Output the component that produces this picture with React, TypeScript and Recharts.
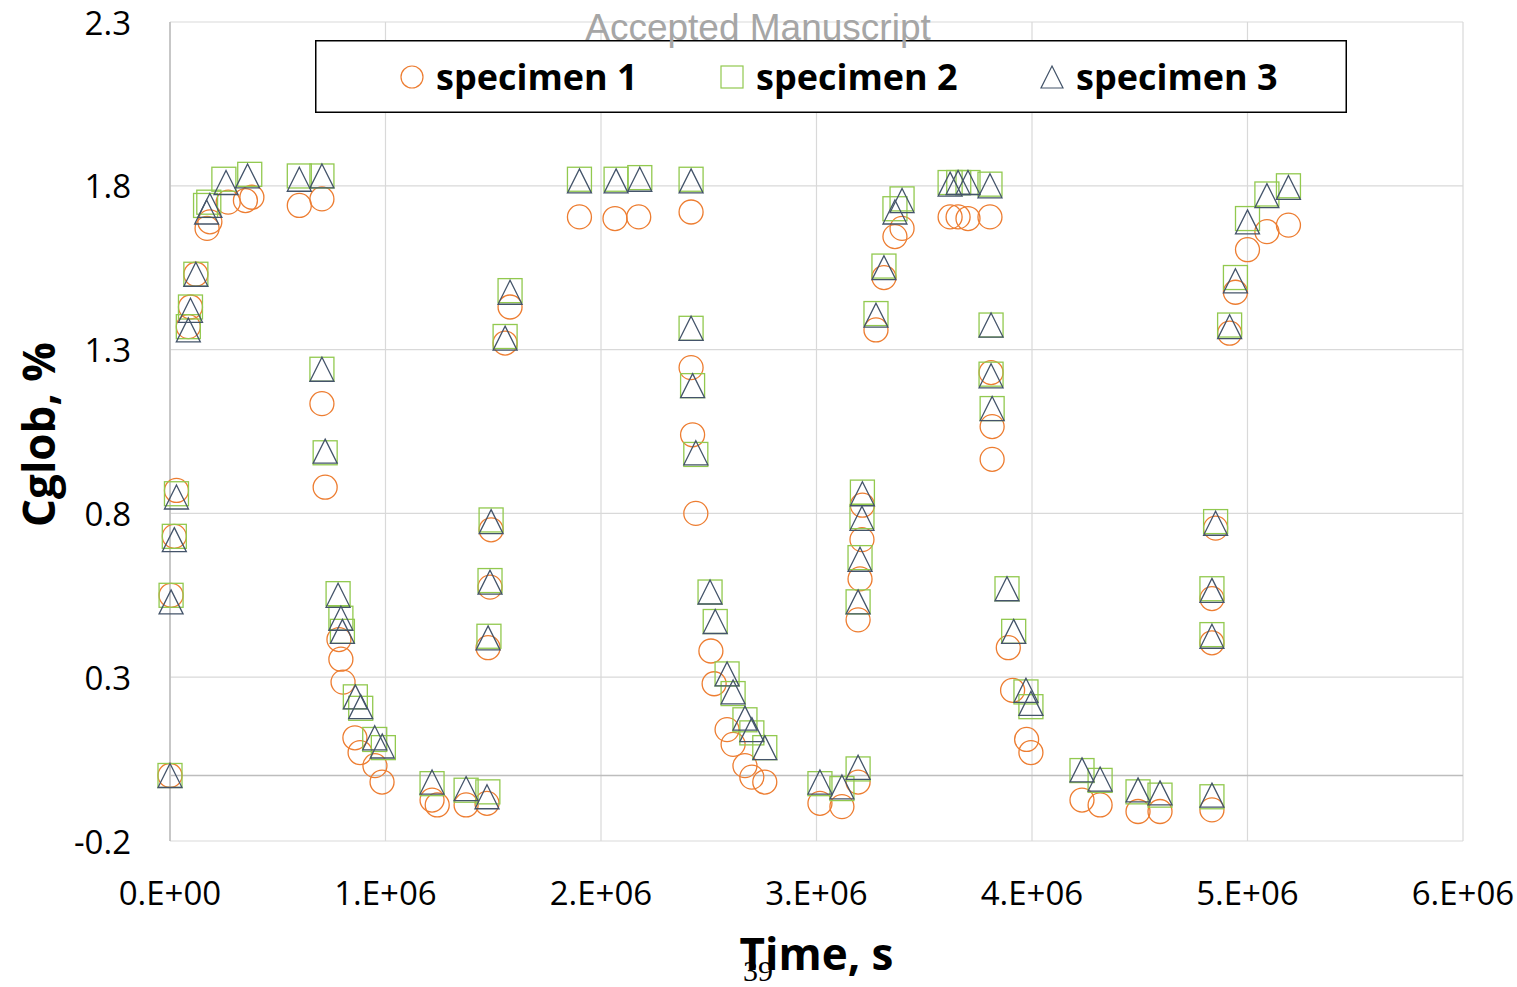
import {
  ScatterChart,
  Scatter,
  XAxis,
  YAxis,
  CartesianGrid,
  ReferenceLine,
  Legend,
} from "recharts";

// time is stored in units of 1e6 s, Cglob in %
type Row = [number, number];

const specimen1: Row[] = [
  [0.0, 0.0], [0.005, 0.55], [0.02, 0.73], [0.03, 0.87], [0.085, 1.37],
  [0.095, 1.43], [0.12, 1.53], [0.172, 1.67], [0.185, 1.69], [0.27, 1.75],
  [0.35, 1.755], [0.38, 1.765],
  [0.6, 1.74], [0.705, 1.76], [0.705, 1.135], [0.72, 0.88], [0.784, 0.415],
  [0.793, 0.355], [0.803, 0.285], [0.858, 0.115], [0.882, 0.07], [0.951, 0.03],
  [0.984, -0.02],
  [1.216, -0.075], [1.24, -0.09], [1.374, -0.09], [1.471, -0.085],
  [1.476, 0.39], [1.485, 0.575], [1.49, 0.75], [1.555, 1.32], [1.578, 1.43],
  [1.9, 1.705], [2.065, 1.7], [2.175, 1.705],
  [2.418, 1.72], [2.418, 1.245], [2.425, 1.04], [2.44, 0.8], [2.51, 0.38],
  [2.525, 0.28], [2.585, 0.14], [2.613, 0.095], [2.668, 0.03], [2.7, -0.005],
  [2.76, -0.02],
  [3.016, -0.085], [3.118, -0.095], [3.193, -0.02], [3.193, 0.475],
  [3.202, 0.6], [3.211, 0.72], [3.213, 0.825], [3.276, 1.36], [3.313, 1.52],
  [3.364, 1.645], [3.397, 1.67],
  [3.62, 1.705], [3.657, 1.705], [3.703, 1.7], [3.805, 1.705], [3.81, 1.23],
  [3.815, 1.065], [3.815, 0.965], [3.89, 0.39], [3.91, 0.26], [3.975, 0.11],
  [3.995, 0.07],
  [4.232, -0.075], [4.316, -0.09], [4.492, -0.11], [4.594, -0.11],
  [4.835, -0.105], [4.835, 0.405], [4.835, 0.54], [4.852, 0.755],
  [4.917, 1.35], [4.944, 1.475], [5.0, 1.605], [5.09, 1.66], [5.19, 1.68],
];

const specimen2: Row[] = [
  [0.0, 0.0], [0.005, 0.55], [0.02, 0.73], [0.03, 0.86], [0.085, 1.37],
  [0.095, 1.43], [0.12, 1.53], [0.165, 1.74], [0.18, 1.75], [0.25, 1.82],
  [0.37, 1.835],
  [0.6, 1.83], [0.705, 1.83], [0.705, 1.24], [0.72, 0.985], [0.78, 0.555],
  [0.793, 0.48], [0.8, 0.44], [0.86, 0.24], [0.885, 0.205], [0.95, 0.11],
  [0.99, 0.085],
  [1.216, -0.025], [1.374, -0.045], [1.475, -0.05], [1.48, 0.425],
  [1.485, 0.595], [1.49, 0.78], [1.555, 1.34], [1.578, 1.48],
  [1.9, 1.82], [2.07, 1.82], [2.18, 1.825],
  [2.418, 1.82], [2.418, 1.365], [2.425, 1.19], [2.44, 0.98], [2.506, 0.56],
  [2.53, 0.47], [2.585, 0.31], [2.613, 0.25], [2.668, 0.17], [2.7, 0.13],
  [2.76, 0.085],
  [3.016, -0.025], [3.118, -0.04], [3.193, 0.02], [3.193, 0.53],
  [3.202, 0.665], [3.211, 0.79], [3.213, 0.865], [3.276, 1.41], [3.313, 1.555],
  [3.364, 1.73], [3.397, 1.76],
  [3.62, 1.81], [3.66, 1.81], [3.703, 1.81], [3.805, 1.805], [3.81, 1.375],
  [3.81, 1.225], [3.815, 1.12], [3.884, 0.57], [3.915, 0.44], [3.972, 0.255],
  [3.995, 0.21],
  [4.232, 0.015], [4.316, -0.015], [4.492, -0.05], [4.594, -0.06],
  [4.835, -0.065], [4.835, 0.43], [4.835, 0.57], [4.852, 0.775],
  [4.917, 1.375], [4.944, 1.52], [5.0, 1.7], [5.09, 1.775], [5.19, 1.8],
];

const specimen3: Row[] = [
  [0.0, 0.0], [0.005, 0.53], [0.02, 0.72], [0.03, 0.85], [0.085, 1.36],
  [0.095, 1.42], [0.12, 1.53], [0.17, 1.72], [0.185, 1.74], [0.26, 1.81],
  [0.36, 1.83],
  [0.6, 1.82], [0.705, 1.83], [0.705, 1.24], [0.72, 0.99], [0.78, 0.55],
  [0.793, 0.48], [0.8, 0.44], [0.86, 0.24], [0.885, 0.21], [0.95, 0.115],
  [0.985, 0.09],
  [1.216, -0.02], [1.374, -0.04], [1.471, -0.065], [1.476, 0.42],
  [1.485, 0.59], [1.49, 0.775], [1.555, 1.335], [1.578, 1.475],
  [1.9, 1.815], [2.07, 1.815], [2.18, 1.82],
  [2.418, 1.815], [2.418, 1.365], [2.425, 1.19], [2.44, 0.985], [2.506, 0.56],
  [2.53, 0.47], [2.585, 0.31], [2.613, 0.255], [2.668, 0.175], [2.7, 0.14],
  [2.76, 0.085],
  [3.016, -0.02], [3.118, -0.035], [3.193, 0.025], [3.193, 0.53],
  [3.202, 0.66], [3.211, 0.785], [3.213, 0.86], [3.276, 1.405], [3.313, 1.55],
  [3.364, 1.72], [3.397, 1.755],
  [3.62, 1.805], [3.657, 1.81], [3.703, 1.81], [3.805, 1.8], [3.81, 1.375],
  [3.81, 1.22], [3.815, 1.12], [3.884, 0.57], [3.915, 0.44], [3.972, 0.26],
  [3.995, 0.22],
  [4.232, 0.017], [4.316, -0.011], [4.492, -0.044], [4.594, -0.053],
  [4.835, -0.06], [4.835, 0.425], [4.835, 0.565], [4.852, 0.77],
  [4.917, 1.37], [4.944, 1.51], [5.0, 1.69], [5.09, 1.77], [5.19, 1.795],
];

const xTicks = [0, 1e6, 2e6, 3e6, 4e6, 5e6, 6e6];
const yTicks = [-0.2, 0.3, 0.8, 1.3, 1.8, 2.3];

const ORANGE = "#ED7D31";
const GREEN = "#92C94F";
const SLATE = "#44546A";
const FONT = "'Open Sans', sans-serif";

const toPoints = (rows: Row[]) => rows.map(([t, c]) => ({ t: t * 1e6, c }));

// Excel-style "0.E+00" / "1.E+06"
function sciLabel(v: number) {
  if (v === 0) return "0.E+00";
  const exp = Math.floor(Math.log10(Math.abs(v)));
  const mant = Math.round(v / Math.pow(10, exp));
  return `${mant}.E+${String(exp).padStart(2, "0")}`;
}

function Marker({ kind, cx, cy, s, w }: { kind: string; cx: number; cy: number; s: number; w: number }) {
  const h = s / 2;
  if (kind === "circle")
    return <circle cx={cx} cy={cy} r={h} fill="none" stroke={ORANGE} strokeWidth={w} />;
  if (kind === "square")
    return <rect x={cx - h} y={cy - h} width={s} height={s} fill="none" stroke={GREEN} strokeWidth={w} />;
  return (
    <path
      d={`M${cx},${cy - h} L${cx + h},${cy + h} L${cx - h},${cy + h} Z`}
      fill="none"
      stroke={SLATE}
      strokeWidth={w}
      strokeLinejoin="miter"
    />
  );
}

const series = [
  { name: "specimen 1", kind: "circle", rows: specimen1 },
  { name: "specimen 2", kind: "square", rows: specimen2 },
  { name: "specimen 3", kind: "triangle", rows: specimen3 },
];

function LegendBox() {
  return (
    <svg width={1032} height={73} style={{ display: "block" }}>
      <rect x={0.75} y={0.75} width={1030.5} height={71.5} fill="#fff" stroke="#000" strokeWidth={1.5} />
      {series.map((s, i) => (
        <g key={s.name}>
          <Marker kind={s.kind} cx={97 + i * 320} cy={37} s={22} w={1.2} />
          <text x={121 + i * 320} y={50} fontFamily={FONT} fontWeight={700} fontSize={36} fill="#000">
            {s.name}
          </text>
        </g>
      ))}
    </svg>
  );
}

function YTick({ x, y, payload }: any) {
  return (
    <text x={x} y={y} textAnchor="end" dominantBaseline="central" fontFamily={FONT} fontSize={33} fill="#000">
      {payload.value.toFixed(1)}
    </text>
  );
}

function XTick({ x, y, payload }: any) {
  return (
    <text x={x} y={y} textAnchor="middle" dominantBaseline="central" fontFamily={FONT} fontSize={33} fill="#000">
      {sciLabel(payload.value)}
    </text>
  );
}

export default function App() {
  return (
    <div style={{ position: "absolute", left: 0, top: 0, width: 1517, height: 987, background: "#fff" }}>
      <ScatterChart width={1517} height={987} margin={{ top: 22, right: 54, bottom: 0, left: 0 }}>
        <CartesianGrid stroke="#d9d9d9" strokeWidth={1.2} />
        <XAxis
          type="number"
          dataKey="t"
          domain={[0, 6e6]}
          ticks={xTicks}
          height={146}
          axisLine={false}
          tickLine={false}
          tickSize={0}
          tickMargin={51}
          tick={<XTick />}
          label={{
            content: ({ viewBox }: any) => (
              <text
                x={viewBox.x + viewBox.width / 2}
                y={viewBox.y + 129}
                textAnchor="middle"
                fontFamily={FONT}
                fontWeight={700}
                fontSize={44}
                fill="#000"
              >
                Time, s
              </text>
            ),
          }}
        />
        <YAxis
          type="number"
          dataKey="c"
          domain={[-0.2, 2.3]}
          ticks={yTicks}
          width={170}
          axisLine={{ stroke: "#bdbdbd", strokeWidth: 1.5 }}
          tickLine={false}
          tickSize={0}
          tickMargin={39}
          tick={<YTick />}
          label={{
            content: ({ viewBox }: any) => {
              const cy = viewBox.y + viewBox.height / 2 + 3;
              return (
                <text
                  x={55}
                  y={cy}
                  transform={`rotate(-90 55 ${cy})`}
                  textAnchor="middle"
                  fontFamily={FONT}
                  fontWeight={700}
                  fontSize={44}
                  fill="#000"
                >
                  Cglob, %
                </text>
              );
            },
          }}
        />
        <ReferenceLine y={0} stroke="#bdbdbd" strokeWidth={1.5} />
        {series.map((s) => (
          <Scatter
            key={s.name}
            name={s.name}
            data={toPoints(s.rows)}
            isAnimationActive={false}
            shape={(p: any) => <Marker kind={s.kind} cx={p.cx} cy={p.cy} s={24} w={1.3} />}
          />
        ))}
        <Legend
          layout="horizontal"
          verticalAlign="middle"
          align="center"
          content={() => <LegendBox />}
          wrapperStyle={{ left: 315, top: 40, width: 1032, height: 73 }}
        />
      </ScatterChart>
      <svg
        width={1517}
        height={987}
        style={{ position: "absolute", left: 0, top: 0, pointerEvents: "none" }}
      >
        <text x={758} y={40} textAnchor="middle" fontFamily="'Liberation Sans', Arial" fontSize={37} fill="#a6a6a6">
          Accepted Manuscript
        </text>
        <text x={758} y={981} textAnchor="middle" fontFamily="'Liberation Serif', serif" fontSize={30} fill="#000">
          39
        </text>
      </svg>
    </div>
  );
}
